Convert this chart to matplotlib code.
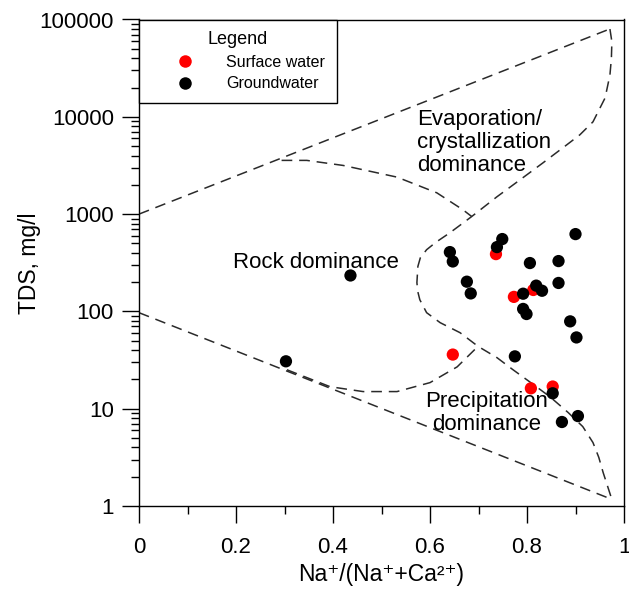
import matplotlib
matplotlib.use("Agg")
import matplotlib.pyplot as plt
from matplotlib.lines import Line2D
from matplotlib.ticker import FixedLocator, NullFormatter, LogLocator
import numpy as np

plt.rcParams['font.family'] = ['Liberation Sans', 'DejaVu Sans']

# ---- data ----
surface_x = [0.736, 0.773, 0.813, 0.647, 0.808, 0.853]
surface_tds = [388, 141, 166, 36, 16.2, 16.9]

ground_x = [0.303, 0.436, 0.641, 0.647, 0.738, 0.749, 0.900, 0.806, 0.865,
            0.676, 0.684, 0.792, 0.819, 0.831, 0.865, 0.792, 0.799, 0.889,
            0.902, 0.775, 0.853, 0.905, 0.872]
ground_tds = [30.7, 234, 407, 326, 458, 554, 623, 314, 329,
              202, 153, 152, 184, 163, 196, 106, 94, 79,
              54, 34.5, 14.4, 8.4, 7.3]

# Gibbs boundary curves
upper_line_x = [0.0, 0.971]
upper_line_y = [1000, 80000]

right_curve_x = [0.971, 0.975, 0.974, 0.971, 0.961, 0.936, 0.909, 0.882, 0.833, 0.785, 0.738,
                 0.686, 0.641, 0.612, 0.593, 0.580, 0.575, 0.573, 0.575, 0.579, 0.593, 0.621,
                 0.662, 0.699, 0.738, 0.771, 0.810, 0.847, 0.885, 0.915, 0.936, 0.948, 0.957,
                 0.975]
right_curve_logy = [4.902, 4.772, 4.60, 4.430, 4.194, 3.948, 3.815, 3.712, 3.527, 3.35, 3.178,
                    2.975, 2.808, 2.71, 2.634, 2.55, 2.462, 2.295, 2.20, 2.120, 1.987, 1.884,
                    1.781, 1.641, 1.525, 1.401, 1.26, 1.124, 0.96, 0.816, 0.652, 0.50, 0.344,
                    0.067]

lower_line_x = [0.0, 0.975]
lower_line_y = [97, 1.17]

inner_upper_x = [0.294, 0.346, 0.421, 0.532, 0.614, 0.668, 0.686]
inner_upper_logy = [3.552, 3.552, 3.50, 3.38, 3.219, 3.044, 2.975]

inner_lower_x = [0.305, 0.394, 0.462, 0.532, 0.600, 0.656, 0.699]
inner_lower_logy = [1.40, 1.226, 1.176, 1.176, 1.268, 1.43, 1.641]

x_ticks = [0, 0.2, 0.4, 0.6, 0.8, 1]
x_tick_labels = ['0', '0.2', '0.4', '0.6', '0.8', '1']
y_ticks = [1, 10, 100, 1000, 10000, 100000]
y_tick_labels = ['1', '10', '100', '1000', '10000', '100000']

# ---- figure ----
fig = plt.figure(figsize=(6.29, 5.89), dpi=100)
ax = fig.add_axes([139/629, 1 - 506/589, (624 - 139)/629, (506 - 19.5)/589])
ax.set_yscale('log')
ax.set_xlim(0, 1)
ax.set_ylim(1, 100000)

dash_kw = dict(color='#2a2a2a', lw=1.1, dashes=(7, 4.5))
ax.plot(upper_line_x, upper_line_y, **dash_kw)
ax.plot(lower_line_x, lower_line_y, **dash_kw)
ax.plot(right_curve_x, 10 ** np.array(right_curve_logy), **dash_kw)
ax.plot(inner_upper_x, 10 ** np.array(inner_upper_logy), **dash_kw)
ax.plot(inner_lower_x, 10 ** np.array(inner_lower_logy), **dash_kw)

ax.scatter(surface_x, surface_tds, s=78, color='#ff0000', edgecolors='none', zorder=3)
ax.scatter(ground_x, ground_tds, s=78, color='black', edgecolors='none', zorder=4)

ax.text(0.573, 5400, 'Evaporation/\ncrystallization\ndominance', fontsize=16,
        ha='left', va='center', linespacing=1.12)
ax.text(0.365, 316, 'Rock dominance', fontsize=16, ha='center', va='center')
ax.text(0.717, 9.1, 'Precipitation\ndominance', fontsize=16, ha='center', va='center',
        linespacing=1.12)

ax.set_xticks(x_ticks)
ax.set_xticklabels(x_tick_labels)
ax.xaxis.set_minor_locator(FixedLocator([0.1, 0.3, 0.5, 0.7, 0.9]))
ax.set_yticks(y_ticks)
ax.set_yticklabels(y_tick_labels)
ax.yaxis.set_minor_locator(LogLocator(base=10, subs=np.arange(2, 10)))
ax.yaxis.set_minor_formatter(NullFormatter())

ax.tick_params(which='major', direction='out', length=12, width=1.0, labelsize=16)
ax.tick_params(axis='x', which='major', pad=10)
ax.tick_params(axis='y', which='major', pad=6)
ax.tick_params(which='minor', direction='out', length=6, width=1.0)
for sp in ax.spines.values():
    sp.set_linewidth(1.0)

ax.set_xlabel('Na⁺/(Na⁺+Ca²⁺)', fontsize=16.5, labelpad=4)
ax.set_ylabel('TDS, mg/l', fontsize=16.5, labelpad=-1)

handles = [Line2D([], [], marker='o', ls='none', color='#ff0000', markersize=9,
                  markeredgewidth=0, label='Surface water'),
           Line2D([], [], marker='o', ls='none', color='black', markersize=9,
                  markeredgewidth=0, label='Groundwater')]
leg = ax.legend(handles=handles, title='Legend', loc='upper left', bbox_to_anchor=(0, 1),
                borderaxespad=0, fancybox=False, edgecolor='black', framealpha=1,
                fontsize=11.5, title_fontsize=13, handlelength=4.3, handletextpad=0.4,
                labelspacing=0.4, borderpad=0.75)
leg.get_frame().set_linewidth(1.0)

fig.savefig('out.png', dpi=100)
